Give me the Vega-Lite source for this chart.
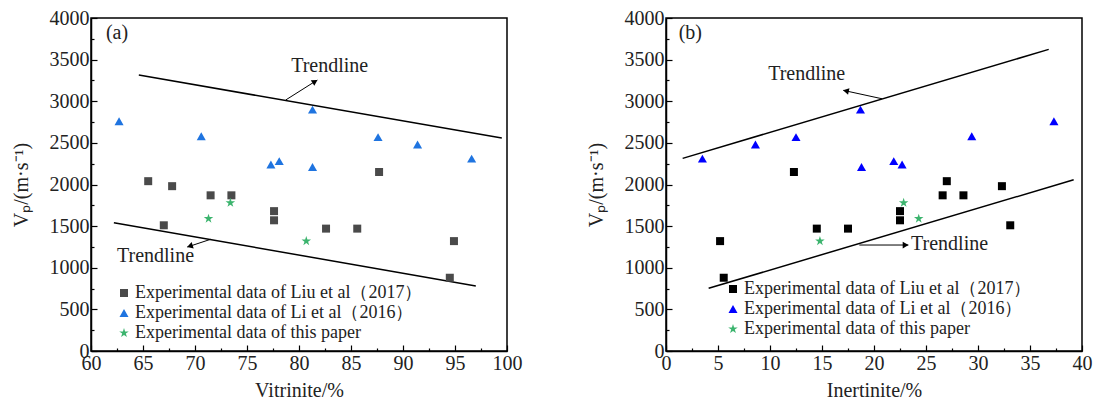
{
  "$schema": "https://vega.github.io/schema/vega-lite/v6.json",
  "background": "white",
  "padding": {"left": 10, "top": 7, "right": 5, "bottom": 5},
  "spacing": 62,
  "config": {
    "font": "Liberation Serif",
    "view": {"stroke": "black", "strokeWidth": 1.5},
    "style": {
      "guide-label": {"font": "Liberation Serif", "fontSize": 20, "fill": "#222"},
      "guide-title": {"font": "Liberation Serif", "fontSize": 20, "fontWeight": "normal", "fill": "#222"}
    },
    "axis": {
      "labelFont": "Liberation Serif", "labelFontSize": 20, "labelColor": "#222",
      "titleFont": "Liberation Serif", "titleFontSize": 20, "titleFontWeight": "normal", "titleColor": "#222",
      "domainColor": "black", "domainWidth": 1.5, "tickColor": "black", "tickWidth": 1.2,
      "grid": false, "labelFlush": false, "labelOverlap": false
    },
    "legend": {
      "orient": "none", "title": null, "labelFont": "Liberation Serif", "labelFontSize": 18,
      "labelColor": "#222", "labelLimit": 0, "labelOffset": 2, "rowPadding": 2, "symbolSize": 80, "symbolStrokeWidth": 0
    },
    "text": {"font": "Liberation Serif", "fontSize": 20, "color": "#222"}
  },
  "datasets": {
    "a_pts": [
      {"s": "Experimental data of Liu et al（2017）", "x": 65.5, "y": 2040},
      {"s": "Experimental data of Liu et al（2017）", "x": 67.0, "y": 1510},
      {"s": "Experimental data of Liu et al（2017）", "x": 67.8, "y": 1980},
      {"s": "Experimental data of Liu et al（2017）", "x": 71.5, "y": 1870},
      {"s": "Experimental data of Liu et al（2017）", "x": 73.5, "y": 1870},
      {"s": "Experimental data of Liu et al（2017）", "x": 77.6, "y": 1680},
      {"s": "Experimental data of Liu et al（2017）", "x": 77.6, "y": 1570},
      {"s": "Experimental data of Liu et al（2017）", "x": 82.6, "y": 1470},
      {"s": "Experimental data of Liu et al（2017）", "x": 85.6, "y": 1470},
      {"s": "Experimental data of Liu et al（2017）", "x": 87.7, "y": 2150},
      {"s": "Experimental data of Liu et al（2017）", "x": 94.5, "y": 880},
      {"s": "Experimental data of Liu et al（2017）", "x": 94.9, "y": 1320},
      {"s": "Experimental data of Li et al（2016）", "x": 62.7, "y": 2760},
      {"s": "Experimental data of Li et al（2016）", "x": 70.6, "y": 2580},
      {"s": "Experimental data of Li et al（2016）", "x": 77.3, "y": 2240},
      {"s": "Experimental data of Li et al（2016）", "x": 78.1, "y": 2280},
      {"s": "Experimental data of Li et al（2016）", "x": 81.3, "y": 2900},
      {"s": "Experimental data of Li et al（2016）", "x": 81.3, "y": 2210},
      {"s": "Experimental data of Li et al（2016）", "x": 87.6, "y": 2570},
      {"s": "Experimental data of Li et al（2016）", "x": 91.4, "y": 2480},
      {"s": "Experimental data of Li et al（2016）", "x": 96.6, "y": 2310},
      {"s": "Experimental data of this paper", "x": 71.3, "y": 1590},
      {"s": "Experimental data of this paper", "x": 73.4, "y": 1780},
      {"s": "Experimental data of this paper", "x": 80.7, "y": 1320}
    ],
    "b_pts": [
      {"s": "Experimental data of Liu et al（2017）", "x": 5.2, "y": 1320},
      {"s": "Experimental data of Liu et al（2017）", "x": 5.55, "y": 880},
      {"s": "Experimental data of Liu et al（2017）", "x": 12.3, "y": 2150},
      {"s": "Experimental data of Liu et al（2017）", "x": 14.5, "y": 1470},
      {"s": "Experimental data of Liu et al（2017）", "x": 17.5, "y": 1470},
      {"s": "Experimental data of Liu et al（2017）", "x": 22.5, "y": 1680},
      {"s": "Experimental data of Liu et al（2017）", "x": 22.5, "y": 1570},
      {"s": "Experimental data of Liu et al（2017）", "x": 26.6, "y": 1870},
      {"s": "Experimental data of Liu et al（2017）", "x": 27.0, "y": 2040},
      {"s": "Experimental data of Liu et al（2017）", "x": 28.6, "y": 1870},
      {"s": "Experimental data of Liu et al（2017）", "x": 32.3, "y": 1980},
      {"s": "Experimental data of Liu et al（2017）", "x": 33.1, "y": 1510},
      {"s": "Experimental data of Li et al（2016）", "x": 3.5, "y": 2310},
      {"s": "Experimental data of Li et al（2016）", "x": 8.6, "y": 2480},
      {"s": "Experimental data of Li et al（2016）", "x": 12.5, "y": 2570},
      {"s": "Experimental data of Li et al（2016）", "x": 18.7, "y": 2900},
      {"s": "Experimental data of Li et al（2016）", "x": 18.8, "y": 2210},
      {"s": "Experimental data of Li et al（2016）", "x": 21.9, "y": 2280},
      {"s": "Experimental data of Li et al（2016）", "x": 22.7, "y": 2240},
      {"s": "Experimental data of Li et al（2016）", "x": 29.4, "y": 2580},
      {"s": "Experimental data of Li et al（2016）", "x": 37.3, "y": 2760},
      {"s": "Experimental data of this paper", "x": 14.8, "y": 1320},
      {"s": "Experimental data of this paper", "x": 22.85, "y": 1780},
      {"s": "Experimental data of this paper", "x": 24.3, "y": 1590}
    ],
    "a_lines": [
      {"id": "up", "x": 64.6, "y": 3315}, {"id": "up", "x": 99.5, "y": 2558},
      {"id": "lo", "x": 62.2, "y": 1541}, {"id": "lo", "x": 97.0, "y": 781}
    ],
    "b_lines": [
      {"id": "up", "x": 1.6, "y": 2314}, {"id": "up", "x": 36.8, "y": 3623},
      {"id": "lo", "x": 4.1, "y": 753}, {"id": "lo", "x": 39.2, "y": 2057}
    ],
    "a_arrows": [
      {"id": 1, "x": 78.72, "y": 3015, "x2": 81.76, "y2": 3255},
      {"id": 2, "x": 71.51, "y": 1342, "x2": 69.26, "y2": 1249}
    ],
    "b_arrows": [
      {"id": 3, "x": 20.77, "y": 3030, "x2": 17.05, "y2": 3131},
      {"id": 4, "x": 18.59, "y": 1273, "x2": 23.30, "y2": 1273}
    ],
    "a_heads": [
      {"id": 1, "x": 81.54, "y": 3238},
      {"id": 2, "x": 69.51, "y": 1259}
    ],
    "b_heads": [
      {"id": 3, "x": 17.30, "y": 3124},
      {"id": 4, "x": 23.04, "y": 1273}
    ],
    "a_text": [
      {"t": "Trendline", "x": 82.95, "y": 3423},
      {"t": "Trendline", "x": 66.2, "y": 1141},
      {"t": "(a)", "x": 62.5, "y": 3823}
    ],
    "b_text": [
      {"t": "Trendline", "x": 13.53, "y": 3323},
      {"t": "(b)", "x": 2.34, "y": 3823}
    ],
    "b_text_left": [
      {"t": "Trendline", "x": 23.56, "y": 1281}
    ]
  },
  "hconcat": [
    {
      "width": 416, "height": 333,
      "encoding": {
        "x": {"field": "x", "type": "quantitative",
          "scale": {"domain": [60, 100], "nice": false, "zero": false},
          "axis": {"title": "Vitrinite/%", "values": [60, 62.5, 65, 67.5, 70, 72.5, 75, 77.5, 80, 82.5, 85, 87.5, 90, 92.5, 95, 97.5, 100],
            "labelExpr": "datum.value % 5 === 0 ? '' + datum.value : ''",
            "labelFont": "Liberation Serif", "labelFontSize": 20, "titleFont": "Liberation Serif", "titleFontSize": 20, "titleFontWeight": "normal",
            "tickSize": {"condition": {"test": "datum.value % 5 === 0", "value": -6}, "value": -3},
            "labelPadding": 8, "titlePadding": 4}},
        "y": {"field": "y", "type": "quantitative",
          "scale": {"domain": [0, 4000], "nice": false, "zero": false},
          "axis": {"title": "Vₚ/(m·s⁻¹)", "values": [0, 250, 500, 750, 1000, 1250, 1500, 1750, 2000, 2250, 2500, 2750, 3000, 3250, 3500, 3750, 4000],
            "labelExpr": "datum.value % 500 === 0 ? '' + datum.value : ''",
            "labelFont": "Liberation Serif", "labelFontSize": 20, "titleFont": "Liberation Serif", "titleFontSize": 20, "titleFontWeight": "normal",
            "tickSize": {"condition": {"test": "datum.value % 500 === 0", "value": -6}, "value": -3},
            "labelPadding": 8, "titlePadding": 18}}
      },
      "layer": [
        {"data": {"name": "a_lines"}, "mark": {"type": "line", "color": "black", "strokeWidth": 1.5}, "encoding": {"detail": {"field": "id"}}},
        {"data": {"name": "a_arrows"}, "mark": {"type": "rule", "color": "black", "strokeWidth": 1}, "encoding": {"x2": {"field": "x2"}, "y2": {"field": "y2"}}},
        {"data": {"name": "a_heads"}, "transform": [{"filter": "datum.id === 1"}], "mark": {"type": "point", "shape": "triangle-up", "filled": true, "color": "black", "opacity": 1, "size": 45, "angle": 58}},
        {"data": {"name": "a_heads"}, "transform": [{"filter": "datum.id === 2"}], "mark": {"type": "point", "shape": "triangle-up", "filled": true, "color": "black", "opacity": 1, "size": 45, "angle": 252}},
        {"data": {"name": "a_text"}, "mark": {"type": "text", "align": "center", "baseline": "middle", "font": "Liberation Serif", "fontSize": 20}, "encoding": {"text": {"field": "t"}}},
        {"data": {"name": "a_pts"}, "mark": {"type": "point", "filled": true, "opacity": 1, "strokeWidth": 0},
          "encoding": {
            "color": {"field": "s", "type": "nominal",
              "scale": {"domain": ["Experimental data of Liu et al（2017）", "Experimental data of Li et al（2016）", "Experimental data of this paper"], "range": ["#4a4a4a", "#1f74e0", "#3cb46e"]},
              "legend": {"legendX": 24, "legendY": 266, "labelFont": "Liberation Serif", "labelFontSize": 18}},
            "shape": {"field": "s", "type": "nominal",
              "scale": {"domain": ["Experimental data of Liu et al（2017）", "Experimental data of Li et al（2016）", "Experimental data of this paper"], "range": ["square", "triangle-up", "M0,-1L0.2245,-0.309L0.951,-0.309L0.363,0.118L0.588,0.809L0,0.382L-0.588,0.809L-0.363,0.118L-0.951,-0.309L-0.2245,-0.309Z"]},
              "legend": {"legendX": 24, "legendY": 266, "labelFont": "Liberation Serif", "labelFontSize": 18}},
            "size": {"field": "s", "type": "nominal",
              "scale": {"domain": ["Experimental data of Liu et al（2017）", "Experimental data of Li et al（2016）", "Experimental data of this paper"], "range": [64, 100, 100]},
              "legend": null}
          }}
      ]
    },
    {
      "width": 416, "height": 333,
      "encoding": {
        "x": {"field": "x", "type": "quantitative",
          "scale": {"domain": [0, 40], "nice": false, "zero": false},
          "axis": {"title": "Inertinite/%", "values": [0, 2.5, 5, 7.5, 10, 12.5, 15, 17.5, 20, 22.5, 25, 27.5, 30, 32.5, 35, 37.5, 40],
            "labelExpr": "datum.value % 5 === 0 ? '' + datum.value : ''",
            "labelFont": "Liberation Serif", "labelFontSize": 20, "titleFont": "Liberation Serif", "titleFontSize": 20, "titleFontWeight": "normal",
            "tickSize": {"condition": {"test": "datum.value % 5 === 0", "value": -6}, "value": -3},
            "labelPadding": 8, "titlePadding": 4}},
        "y": {"field": "y", "type": "quantitative",
          "scale": {"domain": [0, 4000], "nice": false, "zero": false},
          "axis": {"title": "Vₚ/(m·s⁻¹)", "values": [0, 250, 500, 750, 1000, 1250, 1500, 1750, 2000, 2250, 2500, 2750, 3000, 3250, 3500, 3750, 4000],
            "labelExpr": "datum.value % 500 === 0 ? '' + datum.value : ''",
            "labelFont": "Liberation Serif", "labelFontSize": 20, "titleFont": "Liberation Serif", "titleFontSize": 20, "titleFontWeight": "normal",
            "tickSize": {"condition": {"test": "datum.value % 500 === 0", "value": -6}, "value": -3},
            "labelPadding": 8, "titlePadding": 18}}
      },
      "layer": [
        {"data": {"name": "b_lines"}, "mark": {"type": "line", "color": "black", "strokeWidth": 1.5}, "encoding": {"detail": {"field": "id"}}},
        {"data": {"name": "b_arrows"}, "mark": {"type": "rule", "color": "black", "strokeWidth": 1}, "encoding": {"x2": {"field": "x2"}, "y2": {"field": "y2"}}},
        {"data": {"name": "b_heads"}, "transform": [{"filter": "datum.id === 3"}], "mark": {"type": "point", "shape": "triangle-up", "filled": true, "color": "black", "opacity": 1, "size": 45, "angle": 282}},
        {"data": {"name": "b_heads"}, "transform": [{"filter": "datum.id === 4"}], "mark": {"type": "point", "shape": "triangle-up", "filled": true, "color": "black", "opacity": 1, "size": 45, "angle": 90}},
        {"data": {"name": "b_text"}, "mark": {"type": "text", "align": "center", "baseline": "middle", "font": "Liberation Serif", "fontSize": 20}, "encoding": {"text": {"field": "t"}}},
        {"data": {"name": "b_text_left"}, "mark": {"type": "text", "align": "left", "baseline": "middle", "font": "Liberation Serif", "fontSize": 20}, "encoding": {"text": {"field": "t"}}},
        {"data": {"name": "b_pts"}, "mark": {"type": "point", "filled": true, "opacity": 1, "strokeWidth": 0},
          "encoding": {
            "color": {"field": "s", "type": "nominal",
              "scale": {"domain": ["Experimental data of Liu et al（2017）", "Experimental data of Li et al（2016）", "Experimental data of this paper"], "range": ["#000000", "#0000ff", "#3cb46e"]},
              "legend": {"legendX": 58, "legendY": 262, "labelFont": "Liberation Serif", "labelFontSize": 18}},
            "shape": {"field": "s", "type": "nominal",
              "scale": {"domain": ["Experimental data of Liu et al（2017）", "Experimental data of Li et al（2016）", "Experimental data of this paper"], "range": ["square", "triangle-up", "M0,-1L0.2245,-0.309L0.951,-0.309L0.363,0.118L0.588,0.809L0,0.382L-0.588,0.809L-0.363,0.118L-0.951,-0.309L-0.2245,-0.309Z"]},
              "legend": {"legendX": 58, "legendY": 262, "labelFont": "Liberation Serif", "labelFontSize": 18}},
            "size": {"field": "s", "type": "nominal",
              "scale": {"domain": ["Experimental data of Liu et al（2017）", "Experimental data of Li et al（2016）", "Experimental data of this paper"], "range": [64, 100, 100]},
              "legend": null}
          }}
      ]
    }
  ],
  "resolve": {
    "scale": {"color": "independent", "shape": "independent", "size": "independent", "x": "independent", "y": "independent"},
    "legend": {"color": "independent", "shape": "independent"}
  }
}
